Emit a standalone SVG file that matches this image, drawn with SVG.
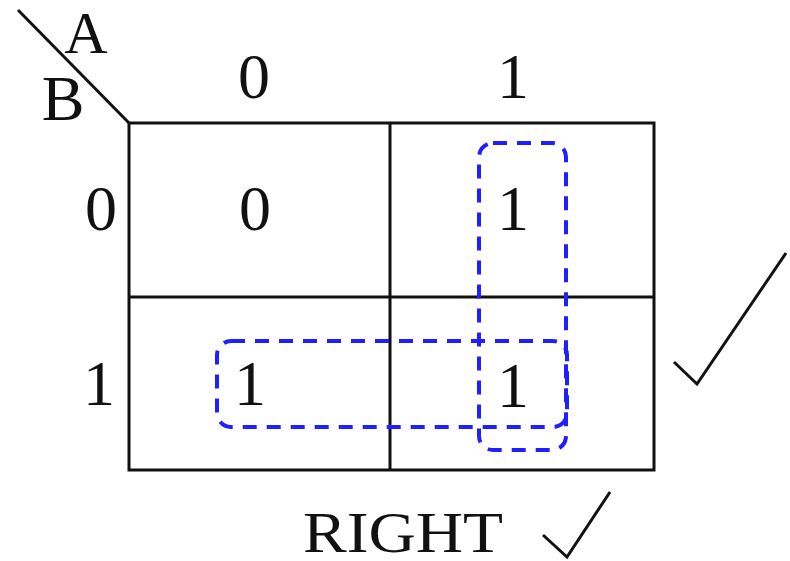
<svg xmlns="http://www.w3.org/2000/svg" width="790" height="561" viewBox="0 0 790 561">
<style>
text{font-family:"Liberation Serif","Times New Roman",serif;font-size:64px;fill:#111;}
.c{text-anchor:middle;}
.grid{fill:none;stroke:#111;stroke-width:3;}
.loop{fill:none;stroke:#1f1fff;stroke-width:4;stroke-dasharray:14 10;}
.tick{fill:none;stroke:#111;stroke-width:3;}
</style>
<rect width="790" height="561" fill="#fff"/>
<g id="grid">
<line class="grid" x1="18" y1="10" x2="129" y2="123"/>
<rect class="grid" x="129" y="123" width="525" height="347"/>
<line class="grid" x1="390" y1="123" x2="390" y2="470"/>
<line class="grid" x1="129" y1="297" x2="654" y2="297"/>
</g>
<g id="labels">
<text x="86" y="53" class="c" style="font-size:60px">A</text>
<text x="63" y="120" class="c">B</text>
<text x="254" y="98" class="c">0</text>
<text x="513" y="98" class="c">1</text>
<text x="101" y="230" class="c">0</text>
<text x="99" y="405" class="c">1</text>
</g>
<g id="cells">
<text x="255" y="230" class="c">0</text>
<text x="513" y="230" class="c">1</text>
<text x="250" y="405" class="c">1</text>
<text x="513" y="407" class="c">1</text>
</g>
<g id="loops">
<rect class="loop" x="479" y="143" width="87" height="307" rx="14"/>
<rect class="loop" x="217" y="341" width="350" height="86" rx="14"/>
</g>
<g id="checks">
<polyline class="tick" points="674,362 697,384 786,253"/>
<polyline class="tick" points="543,535 567,557 610,492"/>
</g>
<text x="303" y="552" textLength="200" lengthAdjust="spacingAndGlyphs" style="font-size:58px">RIGHT</text>
</svg>
